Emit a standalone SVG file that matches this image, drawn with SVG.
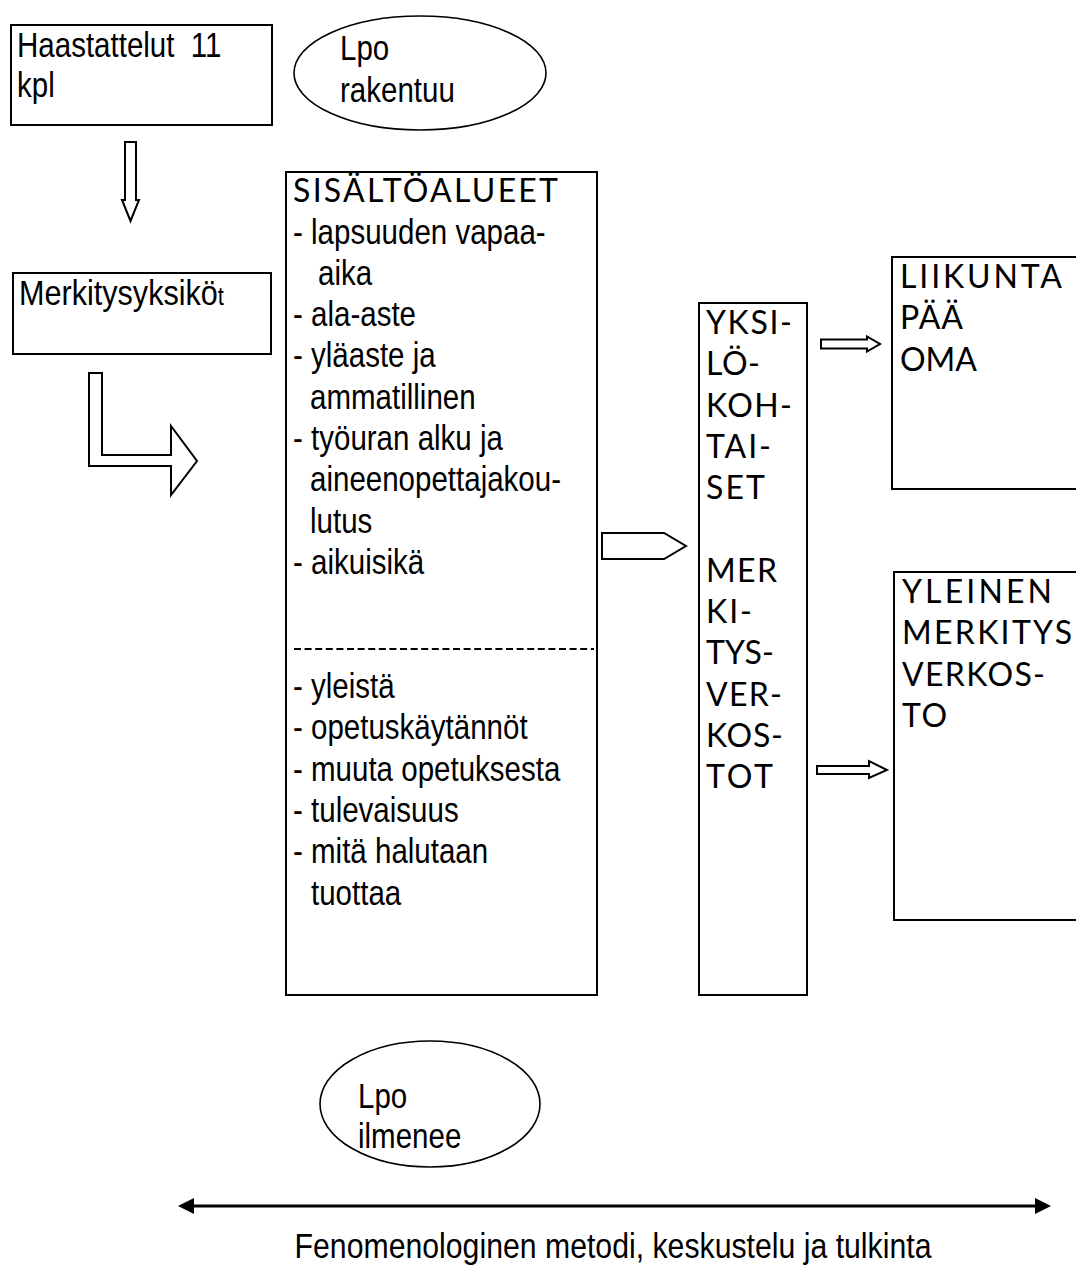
<svg xmlns="http://www.w3.org/2000/svg" width="1076" height="1271" viewBox="0 0 1076 1271">
<style>
.box{fill:#fff;stroke:#000;stroke-width:2}
.ell{fill:#fff;stroke:#000;stroke-width:1.6}
.t{font-family:"Liberation Sans",Arial,sans-serif;font-size:36px;fill:#000}
.u{font-family:Lato,"Open Sans","DejaVu Sans",sans-serif;font-size:32px;fill:#000}
.arr{fill:#fff;stroke:#000;stroke-width:2;stroke-linejoin:miter}
.dash{stroke:#000;stroke-width:1.8;stroke-dasharray:7 3.6;fill:none}
.line{stroke:#000;stroke-width:3;fill:none}
</style>
<defs>
<marker id="head" viewBox="0 0 16 16" refX="9" refY="8" markerWidth="16" markerHeight="16" markerUnits="userSpaceOnUse" orient="auto-start-reverse">
<path d="M0,0 L16,8 L0,16 z" fill="#000"/>
</marker>
</defs>

<g id="haastattelut">
<rect class="box" x="11" y="25" width="261" height="100"/>
<text class="t" transform="translate(17,57) scale(0.82,1)" xml:space="preserve">Haastattelut  11</text>
<text class="t" transform="translate(17,97) scale(0.82,1)">kpl</text>
</g>

<g id="lpo-rakentuu">
<ellipse class="ell" cx="420" cy="73" rx="126" ry="57"/>
<text class="t" transform="translate(340,60) scale(0.82,1)">Lpo</text>
<text class="t" transform="translate(340,102) scale(0.82,1)">rakentuu</text>
</g>

<g id="merkitysyksikot">
<rect class="box" x="13" y="273" width="258" height="81"/>
<text class="t" transform="translate(19,305) scale(0.85,1)">Merkitysyksikö<tspan font-size="26">t</tspan></text>
</g>

<g id="sisaltoalueet">
<rect class="box" x="286" y="172" width="311" height="823"/>
<text class="u" x="293" y="202" font-size="34" textLength="265">SISÄLTÖALUEET</text>
<text class="t" transform="translate(293,243.5) scale(0.82,1)">- lapsuuden vapaa-</text>
<text class="t" transform="translate(318,284.8) scale(0.82,1)">aika</text>
<text class="t" transform="translate(293,326) scale(0.82,1)">- ala-aste</text>
<text class="t" transform="translate(293,367.3) scale(0.82,1)">- yläaste ja</text>
<text class="t" transform="translate(310,408.6) scale(0.82,1)">ammatillinen</text>
<text class="t" transform="translate(293,449.9) scale(0.82,1)">- työuran alku ja</text>
<text class="t" transform="translate(310,491.2) scale(0.82,1)">aineenopettajakou-</text>
<text class="t" transform="translate(310,532.5) scale(0.82,1)">lutus</text>
<text class="t" transform="translate(293,573.8) scale(0.82,1)">- aikuisikä</text>
<line class="dash" x1="294" y1="649" x2="594" y2="649"/>
<text class="t" transform="translate(293,698) scale(0.82,1)">- yleistä</text>
<text class="t" transform="translate(293,739.3) scale(0.82,1)">- opetuskäytännöt</text>
<text class="t" transform="translate(293,780.6) scale(0.82,1)">- muuta opetuksesta</text>
<text class="t" transform="translate(293,821.9) scale(0.82,1)">- tulevaisuus</text>
<text class="t" transform="translate(293,863.2) scale(0.82,1)">- mitä halutaan</text>
<text class="t" transform="translate(311,904.5) scale(0.82,1)">tuottaa</text>
</g>

<g id="yksilokohtaiset">
<rect class="box" x="699" y="303" width="108" height="692"/>
<text class="u" x="706" y="334" textLength="86">YKSI-</text>
<text class="u" x="706" y="375.3" textLength="54">LÖ-</text>
<text class="u" x="706" y="416.6" textLength="86">KOH-</text>
<text class="u" x="706" y="457.9" textLength="65">TAI-</text>
<text class="u" x="706" y="499.2" textLength="59">SET</text>
<text class="u" x="706" y="581.8" textLength="71">MER</text>
<text class="u" x="706" y="623.1" textLength="46">KI-</text>
<text class="u" x="706" y="664.4" textLength="68">TYS-</text>
<text class="u" x="706" y="705.7" textLength="76">VER-</text>
<text class="u" x="706" y="747" textLength="77">KOS-</text>
<text class="u" x="706" y="788.3" textLength="67">TOT</text>
</g>

<g id="liikunta">
<rect class="box" x="892" y="257" width="200" height="232"/>
<text class="u" x="900" y="288" textLength="162">LIIKUNTA</text>
<text class="u" x="900" y="329.3" textLength="63">PÄÄ</text>
<text class="u" x="900" y="370.6" textLength="77">OMA</text>
</g>

<g id="yleinen">
<rect class="box" x="894" y="572" width="200" height="348"/>
<text class="u" x="902" y="603" textLength="150">YLEINEN</text>
<text class="u" x="902" y="644.3" textLength="170">MERKITYS</text>
<text class="u" x="902" y="685.6" textLength="143">VERKOS-</text>
<text class="u" x="902" y="726.9" textLength="45">TO</text>
</g>

<g id="lpo-ilmenee">
<ellipse class="ell" cx="430" cy="1104" rx="110" ry="63"/>
<text class="t" transform="translate(358,1108) scale(0.82,1)">Lpo</text>
<text class="t" transform="translate(358,1148) scale(0.82,1)">ilmenee</text>
</g>

<g id="connectors">
<polygon class="arr" points="125,142 136,142 136,200 139,200 130.5,221 122,200 125,200"/>
<polygon class="arr" points="89,373 102,373 102,455 171,455 171,426 197,461 171,495 171,466 89,466"/>
<polygon class="arr" points="602,533 664,533 686,546 664,559 602,559"/>
<polygon class="arr" points="821,339.5 867,339.5 867,336.5 880,344 867,351.5 867,348.5 821,348.5"/>
<polygon class="arr" points="817,766 869,766 869,761 887,770 869,778 869,774 817,774"/>
<line class="line" x1="185" y1="1206" x2="1044" y2="1206" marker-start="url(#head)" marker-end="url(#head)"/>
</g>

<text id="method-label" class="t" font-size="39" text-anchor="middle" transform="translate(613,1258) scale(0.84,1)">Fenomenologinen metodi, keskustelu ja tulkinta</text>
</svg>
